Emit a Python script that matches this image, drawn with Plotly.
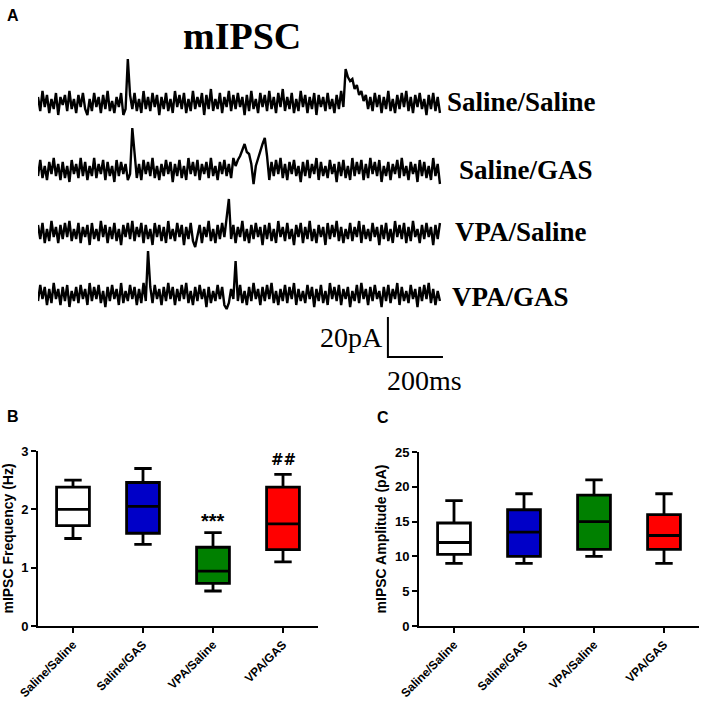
import plotly.graph_objects as go

W, H = 702, 704

# ---- panel A: example mIPSC traces (pA), sampled every dt ms ----
trace_names = ["Saline/Saline", "Saline/GAS", "VPA/Saline", "VPA/GAS"]
dt = 1460 / 179
saline_saline = [3, -4, 6, -2, 4, -5, 2, -3, 5, -6, 3, -1, 4, -4, 6, -3, 2, -5, 4, -2,
                 5, -3, -6, 2, -4, 5, -2, 3, -5, 4, -3, 6, -4, 1, -5, 3, -2, 5, -6, -3,
                 22, 4, -3, 5, -4, 2, -5, 6, -3, 3, -4, 5, -2, 4, -6, 3, -3, 5, -4, 2,
                 -5, 6, -2, 4, -3, 5, -5, 2, -4, 6, -3, 3, -2, 5, -6, 4, -3, 7, -4, 2,
                 -3, 5, -5, 3, -2, 6, -4, 4, -3, 5, -2, 3, -6, 4, -4, 6, -3, 2, -5, 5,
                 -2, 4, -4, 6, -3, 3, -5, 5, -2, 7, -4, 3, -3, 5, -5, 2, -4, 6, -2, 4,
                 -5, 3, -3, 5, -6, 4, -2, 3, -4, 5, -3, 2, -5, 4, -3, 6, -2, 17, 13, 11,
                 12, 7, 9, 4, 6, 1, 4, -3, 3, -4, 5, -2, 4, -5, 3, -3, 6, -4, 2, -5,
                 4, -3, 5, -2, 6, -4, 3, -5, 4, -2, 5, -3, 2, -6, 4, -3, 5, -4, 3, -5]
saline_gas = [-3, 5, -4, 2, -5, 4, -2, 6, -3, 3, -5, 4, -4, 2, -6, 5, -2, 3, -4, 6,
              -3, 4, -5, 2, -3, 6, -4, 3, -2, 5, -5, 4, -3, 2, -6, 5, -3, 4, -2, 3,
              -5, -2, 21, 9, -4, 3, -5, 5, -2, 4, -3, 6, -4, 2, -5, 3, -3, 5, -2, 4,
              -6, 3, -3, 5, -4, 2, -5, 6, -2, 4, -3, 5, -5, 3, -2, 4, -4, 6, -3, 2,
              -5, 4, -2, 5, -3, 3, -4, 6, 2, 5, 7, 10, 13, 9, 8, 3, -7, 2, 6, 10,
              13, 16, 7, -5, 4, -3, 5, -2, 6, -4, 3, -5, 4, -2, 5, -3, 2, -6, 4, -3,
              5, -4, 3, -2, 6, -5, 4, -3, 2, -4, 5, -2, 3, -6, 4, -3, 5, -4, 2, -5,
              6, -3, 4, -2, 5, -5, 3, -4, 6, -2, 4, -3, 5, -6, 2, -3, 4, -5, 3, -2,
              5, -4, 6, -3, 2, -5, 4, -2, 3, -6, 5, -3, 4, -4, 2, -5, 6, -3, 3, -7]
vpa_saline = [4, -3, 5, -5, 2, -4, 6, -2, 3, -5, 4, -3, 5, -2, 6, -4, 2, -3, 5, -5,
              3, -2, 4, -6, 5, -3, 2, -4, 6, -2, 4, -5, 3, -3, 5, -4, 2, -6, 4, -2,
              5, -3, 6, -4, 3, -2, 5, -5, 4, -3, 2, -6, 5, -2, 4, -4, 3, -5, 6, -3,
              2, -4, 5, -2, 4, -6, 3, -3, 5, -4, -7, -2, 4, -5, 3, -2, 6, -4, 2, -5,
              4, -3, 5, -2, 8, 17, -3, 4, -5, 3, -2, 6, -4, 2, -5, 4, -3, 5, -2, 3,
              -6, 4, -3, 5, -4, 2, -5, 6, -2, 3, -4, 5, -3, 2, -6, 4, -2, 5, -5, 3,
              -3, 6, -4, 2, -5, 4, -2, 3, -6, 5, -3, 4, -2, 6, -4, 3, -5, 2, -3, 5,
              -4, 3, -2, 6, -5, 4, -3, 2, -4, 5, -2, 3, -6, 4, -3, 5, -4, 2, -5, 6,
              -2, 4, -3, 5, -5, 3, -4, 6, -2, 2, -5, 4, -3, 5, -2, 3, -6, 4, -3, 5]
vpa_gas = [-3, 5, -2, 4, -5, 3, -4, 6, -2, 3, -5, 4, -3, 5, -6, 2, -3, 4, -4, 5,
           -2, 3, -5, 6, -3, 4, -2, 5, -4, 2, -6, 4, -3, 5, -2, 3, -5, 6, -4, 2,
           -3, 5, -2, 4, -5, 3, -4, 6, -3, 22, 4, -4, 5, -2, 3, -5, 4, -3, 6, -2,
           4, -5, 3, -3, 5, -2, 6, -4, 2, -5, 4, -3, 5, -2, 3, -6, 4, -4, 2, -3,
           5, -2, 4, -5, -7, -4, 3, -2, 17, -3, 5, -4, 2, -5, 4, -3, 6, -2, 3, -5,
           4, -3, 5, -2, 6, -4, 2, -5, 3, -3, 5, -4, 4, -2, 6, -5, 3, -3, 2, -4,
           5, -2, 4, -6, 3, -3, 5, -4, 2, -5, 6, -2, 4, -3, 5, -5, 3, -2, 4, -6,
           2, -3, 5, -4, 6, -2, 3, -5, 4, -3, 5, -2, 2, -6, 4, -3, 5, -4, 3, -2,
           6, -5, 4, -3, 2, -4, 5, -2, 3, -6, 4, -3, 5, -2, 6, -4, 3, -5, 2, -3]
traces = [saline_saline, saline_gas, vpa_saline, vpa_gas]
offsets = [0, -33.5, -65, -96]

# scale bar: 20 pA x 200 ms
bar_t0, bar_ms = 1271, 200
bar_y0, bar_pa = -127, 20

# ---- panels B and C: box summaries ----
groups = ["Saline/Saline", "Saline/GAS", "VPA/Saline", "VPA/GAS"]
colors = ["#ffffff", "#0000c8", "#008000", "#ff0000"]

freq_low = [1.50, 1.40, 0.60, 1.10]
freq_q1 = [1.72, 1.59, 0.73, 1.31]
freq_med = [2.00, 2.05, 0.94, 1.75]
freq_q3 = [2.38, 2.46, 1.35, 2.38]
freq_high = [2.50, 2.70, 1.60, 2.60]

amp_low = [9, 9, 10, 9]
amp_q1 = [10.3, 10.0, 11.0, 11.0]
amp_med = [12.0, 13.5, 15.0, 13.0]
amp_q3 = [14.8, 16.7, 18.8, 16.0]
amp_high = [18, 19, 21, 19]


def px(x):
    return x / W


def py(y):
    return 1 - y / H


fig = go.Figure()

for name, vals, off in zip(trace_names, traces, offsets):
    fig.add_trace(go.Scatter(x=[i * dt for i in range(len(vals))], y=[v + off for v in vals],
                             mode="lines", line=dict(color="black", width=2.4),
                             xaxis="x3", yaxis="y3", showlegend=False, name=name))

fig.add_trace(go.Scatter(x=[bar_t0, bar_t0, bar_t0 + bar_ms],
                         y=[bar_y0 + bar_pa, bar_y0, bar_y0],
                         mode="lines", line=dict(color="black", width=2),
                         xaxis="x3", yaxis="y3", showlegend=False))

for g, c, lo, q1, md, q3, hi in zip(groups, colors, freq_low, freq_q1, freq_med, freq_q3, freq_high):
    fig.add_trace(go.Box(x=[g], lowerfence=[lo], q1=[q1], median=[md], q3=[q3], upperfence=[hi],
                         fillcolor=c, line=dict(color="black", width=2.8), whiskerwidth=0.53,
                         xaxis="x", yaxis="y", showlegend=False, name=g))

for g, c, lo, q1, md, q3, hi in zip(groups, colors, amp_low, amp_q1, amp_med, amp_q3, amp_high):
    fig.add_trace(go.Box(x=[g], lowerfence=[lo], q1=[q1], median=[md], q3=[q3], upperfence=[hi],
                         fillcolor=c, line=dict(color="black", width=2.8), whiskerwidth=0.53,
                         xaxis="x2", yaxis="y2", showlegend=False, name=g))

sans_family = "Liberation Sans, Arial"
title_font = dict(family=sans_family, size=14, color="black", weight="bold")
ytick_font = dict(family=sans_family, size=13, color="black", weight="bold")
xtick_font = dict(family=sans_family, size=12, color="black", weight="bold")
axis_common = dict(showline=True, linecolor="black", linewidth=2, ticks="outside",
                   ticklen=5, tickwidth=2, tickcolor="black", showgrid=False,
                   zeroline=False, automargin=False)

fig.update_layout(
    width=W, height=H, margin=dict(l=0, r=0, t=0, b=0),
    paper_bgcolor="white", plot_bgcolor="white",
    boxmode="overlay", boxgap=0.33,
    xaxis=dict(axis_common, domain=[px(38), px(318)], anchor="y", tickangle=-45,
               range=[-0.5, 3.5], type="category", tickfont=xtick_font),
    yaxis=dict(axis_common, domain=[py(626), py(451)], anchor="x", range=[0, 3],
               tickvals=[0, 1, 2, 3], tickfont=ytick_font,
               title=dict(text="mIPSC Frequency (Hz)", font=title_font, standoff=5)),
    xaxis2=dict(axis_common, domain=[px(419), px(699)], anchor="y2", tickangle=-45,
                range=[-0.5, 3.5], type="category", tickfont=xtick_font),
    yaxis2=dict(axis_common, domain=[py(626), py(452)], anchor="x2", range=[0, 25],
                tickvals=[0, 5, 10, 15, 20, 25], tickfont=ytick_font,
                title=dict(text="mIPSC Amplitude (pA)", font=title_font, standoff=5)),
    xaxis3=dict(domain=[px(38), px(38 + 1500 * 0.2753)], anchor="y3", range=[0, 1500],
                visible=False, automargin=False),
    yaxis3=dict(domain=[py(360), py(40)], anchor="x3", range=[-128.5, 31.5], visible=False,
                automargin=False),
)

serif = "Liberation Serif, Times New Roman"
panel_font = dict(family=sans_family, size=16, weight="bold")
ann = [
    dict(text="A", x=px(5), y=py(15), font=dict(panel_font)),
    dict(text="B", x=px(5), y=py(416), font=dict(panel_font)),
    dict(text="C", x=px(375), y=py(417), font=dict(panel_font)),
    dict(text="mIPSC", x=px(181), y=py(36), font=dict(family=serif, size=38, weight="bold")),
    dict(text="20pA", x=px(318), y=py(337), font=dict(family=serif, size=28)),
    dict(text="200ms", x=px(385), y=py(381), font=dict(family=serif, size=28)),
]
label_pos = [(445, 102), (457, 170), (453, 232), (450, 297)]
for name, (lx, ly) in zip(trace_names, label_pos):
    ann.append(dict(text=name, x=px(lx), y=py(ly), font=dict(family=serif, size=27, weight="bold")))
for a in ann:
    a.update(xref="paper", yref="paper", xanchor="left", yanchor="middle", showarrow=False)
    a["font"].setdefault("color", "black")

ann.append(dict(text="***", x="VPA/Saline", y=1.80, xref="x", yref="y", showarrow=False,
                font=dict(family=sans_family, size=20, color="black", weight="bold")))
ann.append(dict(text="##", x="VPA/GAS", y=2.84, xref="x", yref="y", showarrow=False,
                font=dict(family="DejaVu Sans", size=15, color="black", weight="bold")))

fig.update_layout(annotations=ann)
# drop the browser's default 8px body margin so the figure sits at the window corner
fig.write_html("out.html", config={"displayModeBar": False},
               post_script="document.body.style.margin='0';")
